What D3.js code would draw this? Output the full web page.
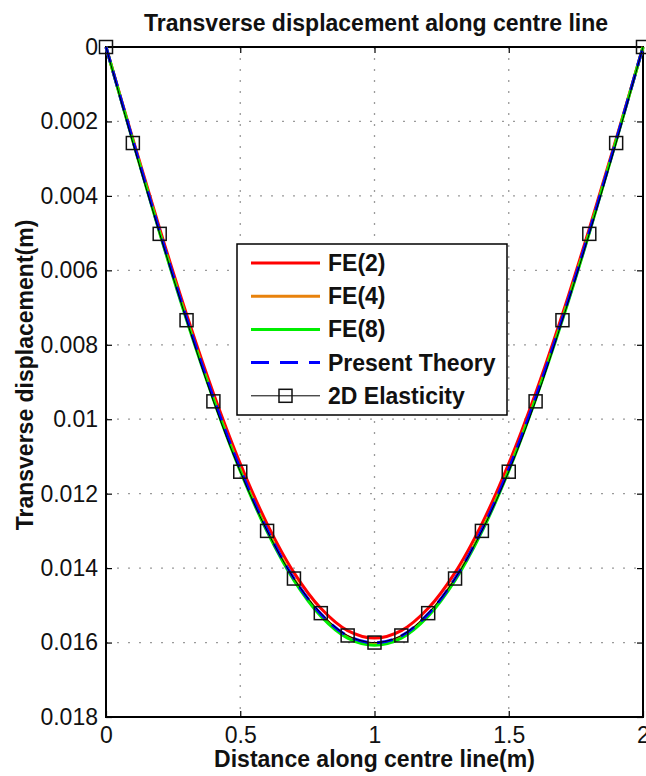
<!DOCTYPE html>
<html>
<head>
<meta charset="utf-8">
<script src="https://cdn.jsdelivr.net/npm/d3@7"></script>
<style>
  body { margin: 0; background: #fff; }
  svg { font-family: "Liberation Sans", Arial, sans-serif; }
  .tick text { font-size: 23px; fill: #111; }
  .tick line { stroke: #000; stroke-width: 1.2; }
  .grid line { stroke: #9a9a9a; stroke-width: 1.3; stroke-dasharray: 2, 9; }
</style>
</head>
<body>
<div id="chart"></div>
<script>
// ---- data ----
const xPos = [0, 0.1, 0.2, 0.3, 0.4, 0.5, 0.6, 0.7, 0.8, 0.9, 1.0,
              1.1, 1.2, 1.3, 1.4, 1.5, 1.6, 1.7, 1.8, 1.9, 2.0];

const fe2 = [0, 0.00247, 0.00488, 0.00718, 0.00930, 0.01119, 0.01281, 0.01412, 0.01508, 0.01568, 0.01588,
             0.01568, 0.01508, 0.01412, 0.01281, 0.01119, 0.00930, 0.00718, 0.00488, 0.00247, 0];
const fe4 = [0, 0.00251, 0.00497, 0.00729, 0.00943, 0.01135, 0.01298, 0.01429, 0.01525, 0.01584, 0.01604,
             0.01584, 0.01525, 0.01429, 0.01298, 0.01135, 0.00943, 0.00729, 0.00497, 0.00251, 0];
const fe8 = [0, 0.00253, 0.00500, 0.00733, 0.00947, 0.01139, 0.01302, 0.01433, 0.01529, 0.01588, 0.01607,
             0.01588, 0.01529, 0.01433, 0.01302, 0.01139, 0.00947, 0.00733, 0.00500, 0.00253, 0];
const presentTheory = [0, 0.00251, 0.00496, 0.00728, 0.00942, 0.01134, 0.01297, 0.01428, 0.01523, 0.01582, 0.01601,
                       0.01582, 0.01523, 0.01428, 0.01297, 0.01134, 0.00942, 0.00728, 0.00496, 0.00251, 0];
const elasticity = [0, 0.00258, 0.00502, 0.00734, 0.00952, 0.01141, 0.01300, 0.01428, 0.01521, 0.01581, 0.01600,
                    0.01581, 0.01521, 0.01428, 0.01300, 0.01141, 0.00952, 0.00734, 0.00502, 0.00258, 0];

const xTicks = [0, 0.5, 1, 1.5, 2];
const xTickLabels = ['0', '0.5', '1', '1.5', '2'];
const yTicks = [0, 0.002, 0.004, 0.006, 0.008, 0.01, 0.012, 0.014, 0.016, 0.018];
const yTickLabels = ['0', '0.002', '0.004', '0.006', '0.008', '0.01', '0.012', '0.014', '0.016', '0.018'];

const seriesNames = ['FE(2)', 'FE(4)', 'FE(8)', 'Present Theory', '2D Elasticity'];
const seriesValues = [fe2, fe4, fe8, presentTheory, elasticity];
const seriesColors = ['#ff0000', '#e8820c', '#00ee00', '#0000ff', '#000000'];

// ---- layout ----
const W = 646, H = 776;
const margin = { top: 47, right: 3, bottom: 59, left: 106 };
const width = W - margin.left - margin.right;
const height = H - margin.top - margin.bottom;

const svg = d3.select('#chart').append('svg')
  .attr('width', W)
  .attr('height', H);

svg.append('rect').attr('width', W).attr('height', H).attr('fill', '#fff');

const g = svg.append('g')
  .attr('transform', `translate(${margin.left},${margin.top})`);

const x = d3.scaleLinear().domain([0, 2]).range([0, width]);
const y = d3.scaleLinear().domain([0, 0.018]).range([0, height]);

// grid (dotted)
g.append('g').attr('class', 'grid')
  .selectAll('line')
  .data(xTicks.slice(1, -1))
  .join('line')
  .attr('x1', d => x(d)).attr('x2', d => x(d))
  .attr('y1', 0).attr('y2', height);

g.append('g').attr('class', 'grid')
  .selectAll('line')
  .data(yTicks.slice(1, -1))
  .join('line')
  .attr('y1', d => y(d)).attr('y2', d => y(d))
  .attr('x1', 0).attr('x2', width);

// axes, ticks pointing inwards
const xAxis = d3.axisBottom(x).tickValues(xTicks)
  .tickFormat((d, i) => xTickLabels[i]).tickSize(-6).tickPadding(10);
const yAxis = d3.axisLeft(y).tickValues(yTicks)
  .tickFormat((d, i) => yTickLabels[i]).tickSize(-6).tickPadding(8);

g.append('g').attr('transform', `translate(0,${height})`).call(xAxis)
  .call(a => a.select('.domain').remove());
g.append('g').call(yAxis)
  .call(a => a.select('.domain').remove());
g.append('g').call(d3.axisTop(x).tickValues(xTicks).tickFormat('').tickSize(-6))
  .call(a => a.select('.domain').remove());
g.append('g').attr('transform', `translate(${width},0)`)
  .call(d3.axisRight(y).tickValues(yTicks).tickFormat('').tickSize(-6))
  .call(a => a.select('.domain').remove());

g.selectAll('.tick text').attr('fill', '#111');

// box
g.append('rect')
  .attr('width', width).attr('height', height)
  .attr('fill', 'none').attr('stroke', '#000').attr('stroke-width', 2);

// curves
const line = d3.line()
  .x((d, i) => x(xPos[i]))
  .y(d => y(d))
  .curve(d3.curveCatmullRom);

seriesValues.forEach((vals, k) => {
  const isLast = k === seriesValues.length - 1;
  g.append('path')
    .datum(vals)
    .attr('d', line)
    .attr('fill', 'none')
    .attr('stroke', seriesColors[k])
    .attr('stroke-width', isLast ? 1 : 3)
    .attr('stroke-dasharray', k === 3 ? '16,9' : null);
});

// square markers for 2D elasticity
g.append('g').selectAll('rect')
  .data(elasticity)
  .join('rect')
  .attr('x', (d, i) => x(xPos[i]) - 6.5)
  .attr('y', d => y(d) - 6.5)
  .attr('width', 13).attr('height', 13)
  .attr('fill', 'none')
  .attr('stroke', '#111')
  .attr('stroke-width', 1.5);

// titles
svg.append('text')
  .attr('x', 376).attr('y', 31)
  .attr('text-anchor', 'middle')
  .attr('font-size', 23).attr('font-weight', 'bold')
  .attr('fill', '#111')
  .text('Transverse displacement along centre line');

svg.append('text')
  .attr('x', margin.left + width / 2).attr('y', 767)
  .attr('text-anchor', 'middle')
  .attr('font-size', 23).attr('font-weight', 'bold')
  .attr('fill', '#111')
  .text('Distance along centre line(m)');

svg.append('text')
  .attr('transform', 'translate(33,375) rotate(-90)')
  .attr('text-anchor', 'middle')
  .attr('font-size', 23).attr('font-weight', 'bold')
  .attr('fill', '#111')
  .text('Transverse displacement(m)');

// legend
const legend = svg.append('g').attr('transform', 'translate(237,244)');
legend.append('rect')
  .attr('width', 270).attr('height', 171)
  .attr('fill', '#fff').attr('stroke', '#000').attr('stroke-width', 1.5);

const item = legend.selectAll('.legend-item')
  .data(seriesNames)
  .join('g')
  .attr('class', 'legend-item')
  .attr('transform', (d, i) => `translate(0,${19 + i * 33.2})`);

item.append('line')
  .attr('x1', 14).attr('x2', 83)
  .attr('stroke', (d, i) => seriesColors[i])
  .attr('stroke-width', (d, i) => i === 4 ? 1 : 3)
  .attr('stroke-dasharray', (d, i) => i === 3 ? '18,11' : null);

item.filter((d, i) => i === 4).append('rect')
  .attr('x', 42).attr('y', -6.5)
  .attr('width', 13).attr('height', 13)
  .attr('fill', 'none').attr('stroke', '#111').attr('stroke-width', 1.5);

item.append('text')
  .attr('x', 91).attr('y', 8)
  .attr('font-size', 23).attr('font-weight', 'bold')
  .attr('fill', '#111')
  .text(d => d);
</script>
</body>
</html>
